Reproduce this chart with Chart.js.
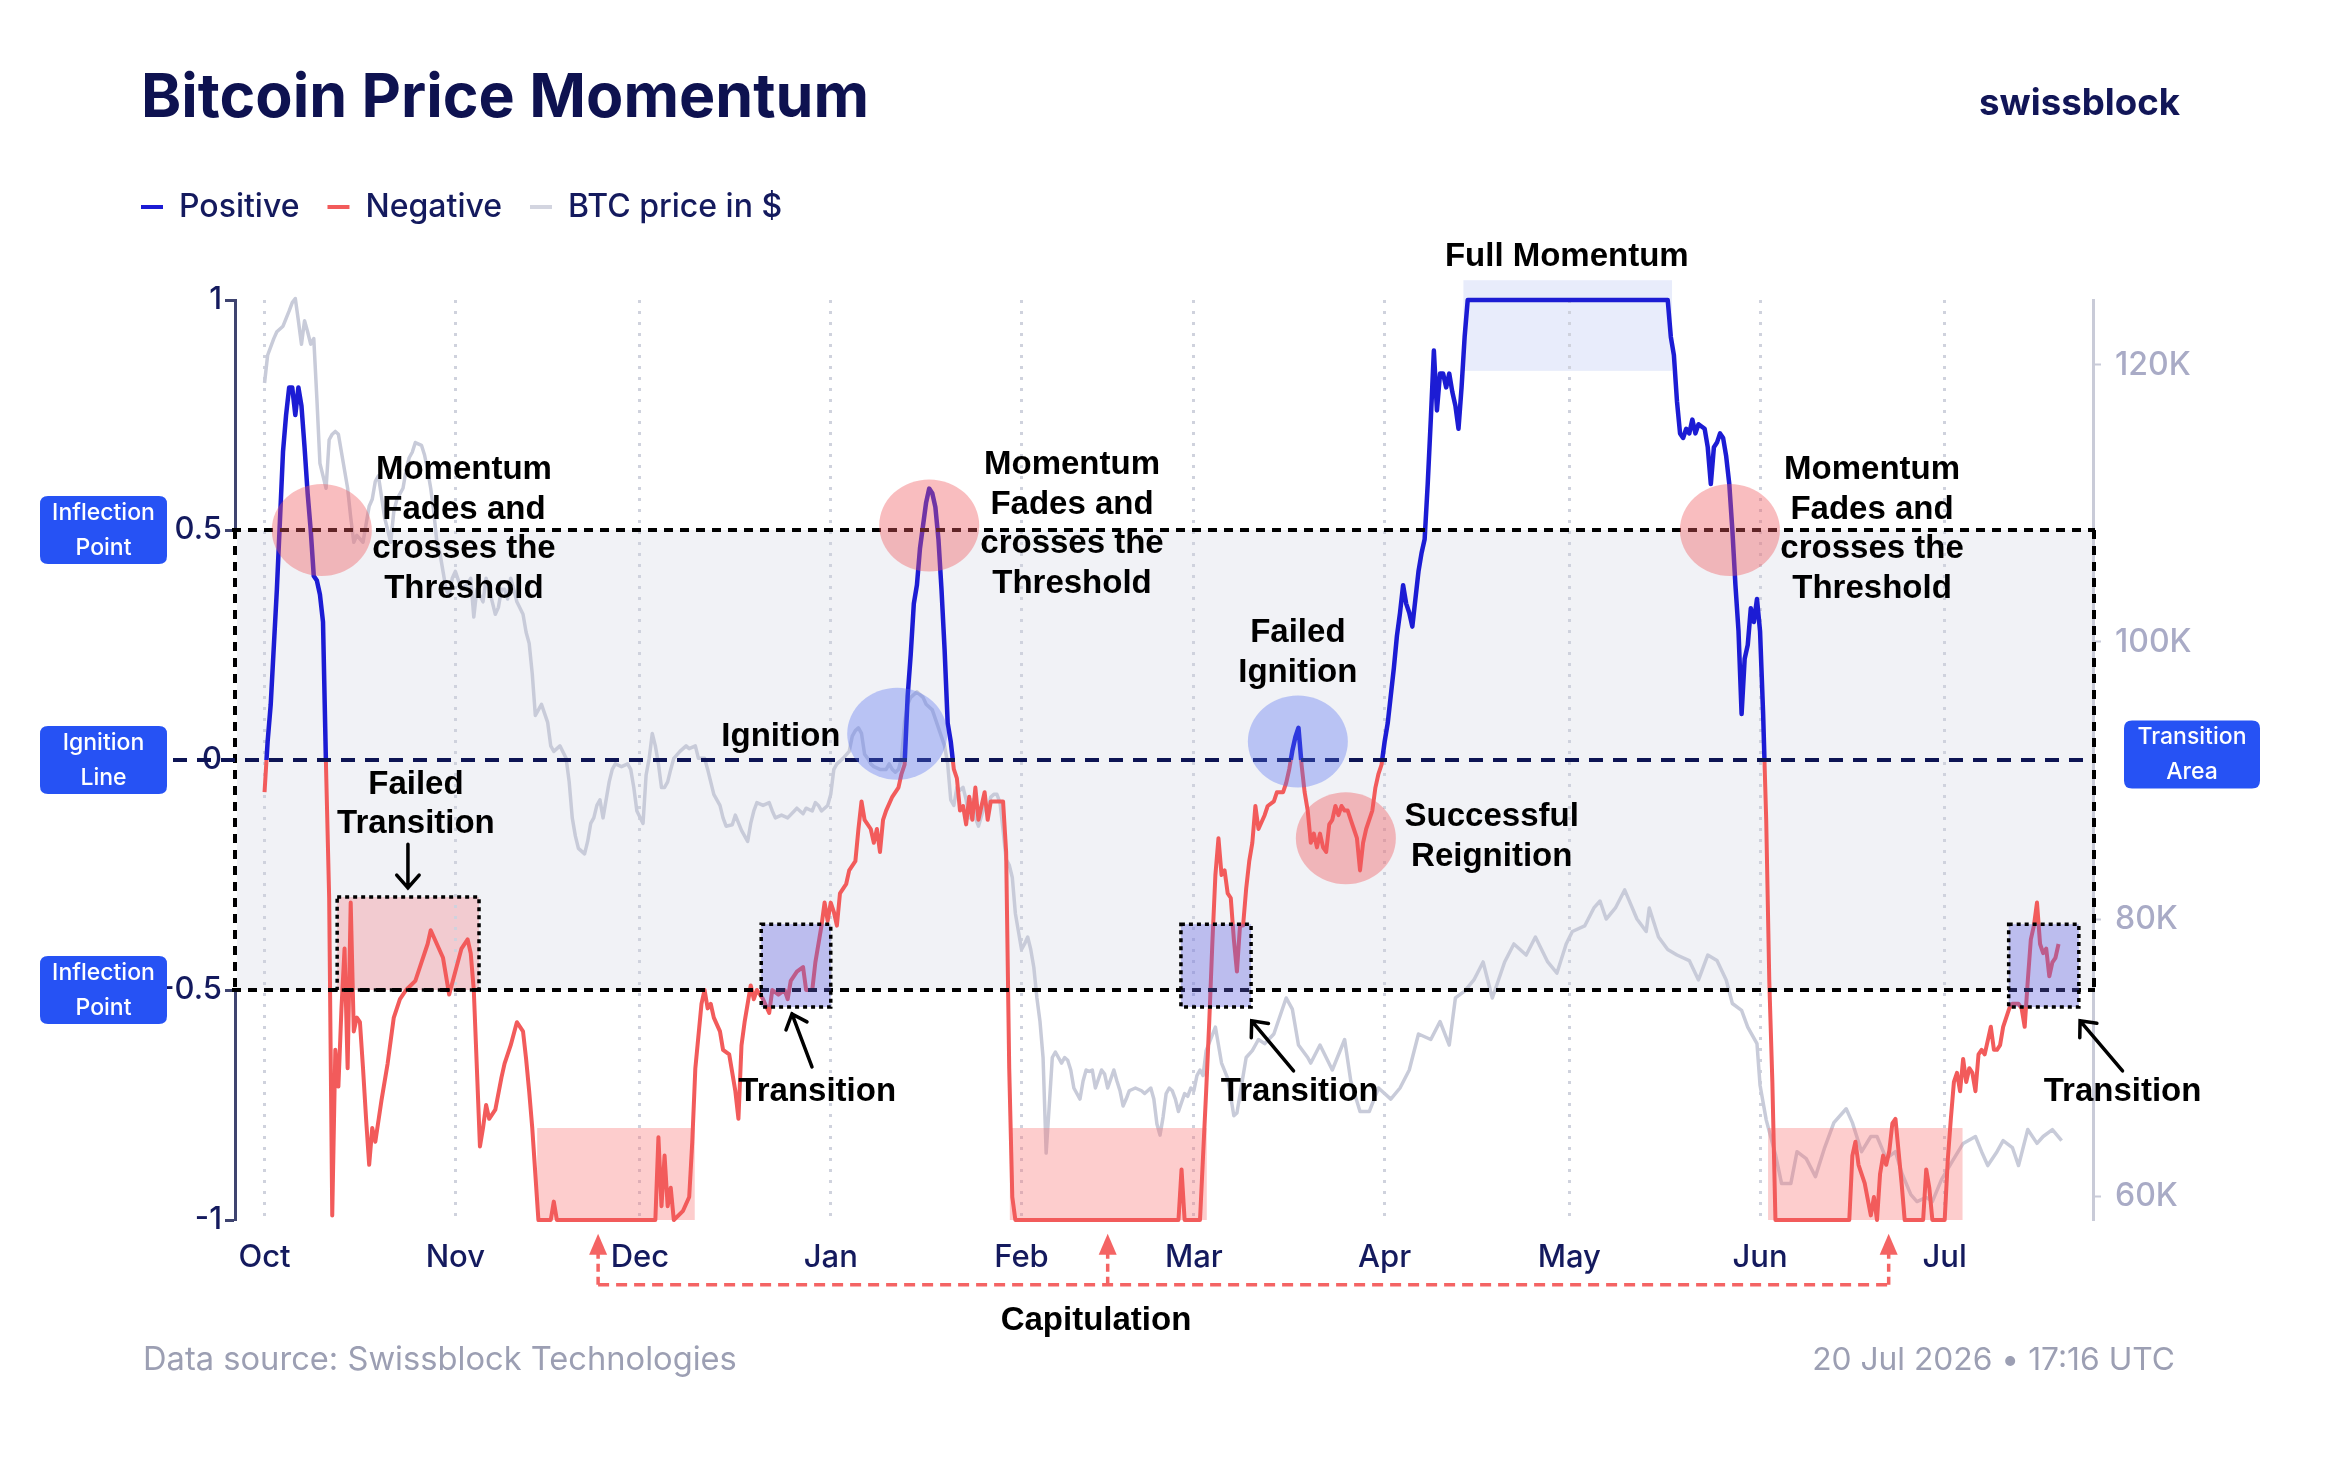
<!DOCTYPE html>
<html>
<head>
<meta charset="utf-8">
<script src="https://cdn.jsdelivr.net/npm/chart.js@4.4.1/dist/chart.umd.min.js"></script>
<style>
html,body{margin:0;padding:0;background:#ffffff;}
canvas{display:block;}
</style>
</head>
<body>
<canvas id="c" width="2336" height="1468"></canvas>
<script>
// ---------------- DATA ----------------
// x values are days counted from START_DATE (1 Oct 2025 = day 0)
const START_DATE = '2025-10-01';
const monthStarts = ['2025-10-01','2025-11-01','2025-12-01','2026-01-01','2026-02-01','2026-03-01','2026-04-01','2026-05-01','2026-06-01','2026-07-01'];
const monthLabels = ['Oct','Nov','Dec','Jan','Feb','Mar','Apr','May','Jun','Jul'];

const seriesNames = ['Positive','Negative','BTC price in $'];

// Bitcoin price momentum: [day, value]
const momentum = [
[0,-0.07],[0.5,0.04],[1,0.12],[2,0.37],[3,0.67],[3.5,0.75],[4,0.81],[4.5,0.81],[5,0.75],[5.5,0.81],[6,0.77],[6.5,0.68],[7,0.58],[7.5,0.50],[8,0.40],[8.5,0.39],[9,0.36],[9.5,0.30],[10,-0.02],[10.5,-0.30],
[11,-0.99],[11.5,-0.63],[12,-0.71],[12.5,-0.54],[13,-0.41],[13.5,-0.67],[14,-0.31],[14.5,-0.59],[15,-0.56],[15.5,-0.57],[16,-0.67],[16.5,-0.78],[17,-0.88],[17.5,-0.80],[18,-0.83],[19,-0.74],[20,-0.66],[21,-0.56],[22,-0.52],[23,-0.50],
[24.5,-0.48],[25.5,-0.44],[26.5,-0.40],[27,-0.37],[28,-0.40],[29,-0.43],[30,-0.51],[31,-0.46],[32,-0.41],[33,-0.39],[33.5,-0.42],[34,-0.50],[34.5,-0.67],[35,-0.84],[35.5,-0.80],[36,-0.75],[36.5,-0.78],[37.5,-0.76],[38.5,-0.69],[39,-0.66],
[40,-0.62],[41,-0.57],[42,-0.59],[42.5,-0.65],[43,-0.72],[43.5,-0.80],[44.5,-1],[46.5,-1],[47,-0.96],[47.5,-1],[63.5,-1],[64,-0.82],[64.5,-0.97],[65,-0.86],[65.5,-0.97],[66,-0.93],[66.5,-1],[68,-0.98],[69,-0.95],[69.5,-0.83],
[70,-0.67],[71,-0.53],[71.5,-0.50],[72,-0.54],[72.5,-0.53],[73,-0.56],[74,-0.59],[74.5,-0.63],[75.5,-0.64],[76.5,-0.72],[77,-0.78],[77.5,-0.62],[78,-0.57],[79,-0.49],[79.5,-0.52],[80,-0.50],[81,-0.52],[82,-0.55],[82.5,-0.50],[83.5,-0.51],
[84.5,-0.50],[85,-0.52],[85.5,-0.48],[86.5,-0.46],[87.5,-0.45],[88,-0.50],[89,-0.50],[89.5,-0.44],[90.5,-0.36],[91,-0.31],[91.5,-0.35],[92,-0.31],[92.5,-0.33],[93,-0.36],[93.5,-0.29],[94.5,-0.27],[95,-0.24],[96,-0.22],[96.5,-0.15],[97,-0.09],
[97.5,-0.13],[98.5,-0.15],[99,-0.18],[99.5,-0.15],[100,-0.20],[100.5,-0.13],[101,-0.11],[102,-0.08],[103,-0.06],[103.5,-0.03],[104,-0.01],[104.5,0.14],[105,0.23],[105.5,0.34],[106,0.38],[106.5,0.46],[107,0.51],[107.5,0.56],[108,0.59],[108.5,0.58],
[109,0.55],[109.5,0.48],[110,0.37],[110.5,0.24],[111,0.08],[111.5,0.04],[112,-0.02],[112.5,-0.04],[113,-0.11],[113.5,-0.10],[114,-0.14],[114.5,-0.08],[115,-0.13],[115.5,-0.06],[116,-0.13],[116.5,-0.10],[117,-0.07],[117.5,-0.13],[118,-0.09],[119,-0.09],
[120,-0.09],[120.5,-0.20],[121,-0.67],[121.5,-0.95],[122,-1],[148.5,-1],[149,-0.89],[149.5,-1],[152,-1],[153,-0.72],[153.5,-0.57],[154,-0.40],[154.5,-0.25],[155,-0.17],[155.5,-0.25],[156,-0.24],[156.5,-0.29],[157,-0.30],[157.5,-0.39],[158,-0.46],
[158.5,-0.36],[159,-0.36],[159.5,-0.28],[160,-0.22],[160.5,-0.18],[161,-0.10],[161.5,-0.15],[162.5,-0.12],[163,-0.10],[164,-0.09],[164.5,-0.07],[165.5,-0.07],[166,-0.05],[166.5,-0.02],[167,0.02],[167.5,0.05],[168,0.07],[168.5,-0.01],[169,-0.07],[169.5,-0.11],
[170,-0.18],[170.5,-0.16],[171,-0.19],[171.5,-0.16],[172,-0.19],[172.5,-0.20],[173,-0.14],[173.5,-0.13],[174,-0.10],[174.5,-0.12],[175,-0.10],[175.5,-0.11],[176,-0.11],[176.5,-0.13],[177,-0.15],[177.5,-0.17],[178,-0.24],[178.5,-0.18],[179,-0.15],[180,-0.11],
[180.5,-0.06],[181,-0.03],[181.5,-0.01],[182,0.04],[182.5,0.08],[183,0.14],[183.5,0.20],[184,0.27],[184.5,0.32],[185,0.38],[185.5,0.34],[186,0.32],[186.5,0.29],[187,0.35],[187.5,0.41],[188,0.45],[188.5,0.48],[189,0.60],[189.5,0.74],[190,0.89],
[190.5,0.76],[191,0.84],[191.5,0.84],[192,0.81],[192.5,0.84],[193,0.80],[193.5,0.77],[194,0.72],[194.5,0.81],[195,0.92],[195.5,1],[228,1],[228.5,0.92],[229,0.88],[229.5,0.78],[230,0.71],[230.5,0.70],[231,0.72],[231.5,0.71],[232,0.74],
[232.5,0.71],[233,0.73],[234,0.72],[234.5,0.68],[235,0.60],[235.5,0.68],[236,0.69],[236.5,0.71],[237,0.70],[237.5,0.66],[238,0.60],[238.5,0.50],[239,0.38],[239.5,0.28],[240,0.10],[240.5,0.22],[241,0.25],[241.5,0.33],[242,0.30],[242.5,0.35],
[243,0.28],[243.5,0.10],[244,-0.13],[244.5,-0.48],[245,-0.70],[245.5,-1],[257.5,-1],[258,-0.86],[258.5,-0.83],[259,-0.88],[260,-0.92],[261,-0.99],[261.5,-0.95],[262,-1],[262.5,-0.90],[263,-0.86],[263.5,-0.88],[264,-0.85],[264.5,-0.79],[265,-0.78],
[265.5,-0.85],[266,-0.92],[266.5,-1],[269.5,-1],[270,-0.89],[270.5,-0.93],[271,-1],[273,-1],[273.5,-0.87],[274,-0.78],[274.5,-0.70],[275,-0.68],[275.5,-0.72],[276,-0.65],[276.5,-0.70],[277,-0.67],[277.5,-0.68],[278,-0.72],[278.5,-0.64],[279,-0.63],
[279.5,-0.64],[280,-0.61],[280.5,-0.58],[281,-0.63],[281.5,-0.63],[282,-0.62],[282.5,-0.58],[283,-0.56],[283.5,-0.54],[284,-0.53],[285,-0.53],[285.5,-0.54],[286,-0.58],[286.5,-0.48],[287,-0.39],[287.5,-0.36],[288,-0.31],[288.5,-0.40],[289,-0.42],[289.5,-0.41],
[290,-0.47],[290.5,-0.44],[291,-0.43],[291.5,-0.40]
];

// BTC price in thousand $: [day, price]
const btcPrice = [
[0,118.7],[0.5,120.7],[1.5,121.9],[2,122.4],[3,122.8],[4,123.9],[4.5,124.5],[5,124.8],[5.5,123.2],[6,121.5],[6.5,123.2],[7,122.4],[7.5,121.5],[8,121.9],[8.5,117.6],[9,112.9],[10,111.1],[10.5,114.6],[11,115.0],[11.5,115.2],
[12,115.0],[12.5,113.7],[13,112.4],[13.5,111.1],[14,109.0],[14.5,107.2],[15,107.7],[16,107.2],[16.5,108.5],[17,109.8],[17.5,110.3],[18,111.6],[18.5,112.0],[19,110.5],[19.5,109.0],[20.5,107.2],[21,109.4],[21.5,110.3],[22.5,111.1],[23,112.4],
[23.5,113.3],[24,113.7],[24.5,114.4],[25.5,114.2],[26,113.5],[26.5,112.4],[27,111.1],[27.5,109.4],[28,107.2],[28.5,106.4],[29,105.1],[29.5,103.8],[30,103.3],[30.5,104.6],[31,105.1],[32,103.8],[33,104.2],[33.5,104.6],[34,101.8],[34.5,103.8],
[35.5,102.9],[36,104.6],[37,102.9],[37.5,102.0],[38,102.5],[38.5,103.8],[39,103.8],[39.5,103.1],[40,104.6],[40.5,103.8],[41,102.9],[42,102.0],[42.5,100.7],[43,99.9],[43.5,97.7],[44,94.7],[44.5,95.1],[45,95.5],[46,94.2],[46.5,92.5],
[47,92.1],[48,92.5],[49,91.6],[49.5,89.9],[50,87.3],[50.5,86.0],[51,85.1],[52,84.7],[52.5,85.6],[53,86.9],[53.5,87.3],[54,88.2],[54.5,88.6],[55,87.3],[55.5,88.6],[56,89.9],[56.5,90.8],[57,91.2],[58,91.0],[59,91.2],
[59.5,90.8],[60,89.5],[60.5,87.8],[61.5,86.9],[62,90.4],[62.5,91.6],[63,93.4],[63.5,92.5],[64,91.2],[64.5,89.5],[65,89.5],[65.5,89.9],[66,90.8],[66.5,91.6],[67.5,92.1],[68.5,92.5],[69,92.3],[70,92.5],[70.5,91.6],[71.5,91.6],
[72,90.8],[72.5,89.9],[73,89.0],[74,88.2],[74.5,87.3],[75,86.7],[76,86.8],[76.5,87.5],[77.5,86.4],[78.5,85.6],[79,86.9],[79.5,87.8],[80,88.4],[81,88.2],[82,88.4],[82.5,87.8],[83,87.3],[84,87.5],[85,87.3],[86.5,88.0],
[87.5,87.6],[88,88.0],[89,87.8],[89.5,88.4],[90,88.2],[90.5,87.8],[91.5,88.2],[92,89.0],[92.5,90.8],[93,91.2],[94,91.6],[95,92.1],[95.5,93.2],[96,93.6],[96.5,93.8],[97,93.4],[97.5,91.9],[98,91.6],[98.5,91.2],[99,91.0],
[100,90.8],[101,90.8],[101.5,91.2],[102,90.8],[102.5,90.6],[103,90.8],[103.5,91.6],[104,94.2],[104.5,95.5],[105,96.0],[106,96.4],[107,96.0],[107.5,95.5],[108.5,95.1],[109.5,93.8],[110.5,92.5],[111,91.2],[111.5,88.6],[112,88.2],[112.5,89.5],
[113,89.3],[113.5,89.5],[114,88.6],[114.5,87.3],[115,88.6],[115.5,87.3],[116,86.7],[117,88.2],[117.5,87.8],[118,88.8],[118.5,89.0],[119,89.0],[119.5,88.4],[120,86.4],[120.5,84.3],[121,83.9],[121.5,83.0],[122,80.4],[123,77.8],[123.5,78.2],
[124,78.7],[124.5,77.8],[125,76.5],[125.5,74.3],[126,72.6],[126.5,70.0],[127,63.1],[127.5,66.5],[128,70.0],[128.5,70.4],[129.5,69.6],[130,70.0],[130.5,69.8],[131,69.1],[131.5,67.8],[132.5,67.0],[133,68.3],[133.5,69.1],[134,69.0],[134.5,69.1],
[135,67.8],[136,69.1],[136.5,68.8],[137,67.8],[138,69.1],[138.5,68.3],[139,67.6],[139.5,66.5],[140,67.0],[140.5,67.6],[141.5,67.8],[142.5,67.6],[143,67.4],[144,67.8],[144.5,67.0],[145,65.2],[145.5,64.4],[146,65.7],[146.5,67.4],[147,67.8],
[147.5,67.6],[148,67.0],[148.5,66.1],[149.5,67.4],[150,67.2],[150.5,67.8],[151,67.6],[151.5,68.7],[152,69.1],[152.5,68.7],[153,70.5],[154.5,72.2],[155.5,69.6],[156.5,68.5],[157.5,65.8],[158,66.0],[159.5,70.0],[160.5,70.5],[161.5,71.3],[162.5,71.0],
[164,71.7],[165,73.0],[166,74.3],[167,73.5],[168,70.9],[169.5,70.0],[170,69.6],[171.5,70.9],[173.5,69.1],[175.5,71.3],[176.5,68.3],[178,66.1],[179.5,66.1],[181,67.8],[183,67.0],[184.5,67.8],[186,69.1],[187.5,71.7],[189.5,71.3],[191,72.6],
[192.5,70.9],[193.5,74.3],[195,74.8],[196.5,75.6],[198,76.9],[199.5,74.3],[201.5,76.9],[203,78.2],[205,77.4],[206.5,78.7],[208.5,76.9],[210,76.1],[211.5,78.2],[212.5,79.1],[214.5,79.5],[216,80.8],[217,81.3],[218,80.0],[219.5,80.8],[221,82.1],
[223,80.0],[224.5,79.1],[225,80.8],[226.5,78.7],[228,77.8],[229.5,77.4],[231.5,77.0],[233,75.6],[234.5,77.4],[236,77.0],[237.5,75.6],[238.5,73.9],[240,73.4],[241,72.2],[242.5,71.0],[243,68.0],[244,65.5],[245.5,63.0],[246.5,60.9],[248,60.9],
[249,63.2],[250.5,62.7],[252,61.4],[253.5,63.5],[255,65.3],[257,66.3],[258,65.3],[259.5,63.2],[261,64.3],[262,64.3],[263.5,62.7],[265,63.2],[266,61.7],[267.5,60.1],[268.5,59.6],[270,59.9],[271,59.6],[272.5,61.2],[274.5,62.7],[276,63.8],
[278,64.3],[279,63.2],[280,62.2],[281.5,63.2],[282.5,64.0],[284,63.5],[285,62.2],[286.5,64.8],[288,63.8],[289,64.3],[290.5,64.8],[292,64.0]
];

const momentumTicks = [-1, -0.5, 0, 0.5, 1];
const momentumTickLabels = ['-1', '-0.5', '0', '0.5', '1'];
const priceTicks = [60, 80, 100, 120];
const priceTickLabels = ['60K', '80K', '100K', '120K'];

// ---------------- ANNOTATIONS (data coordinates: day, momentum value) ----------------
const X_RANGE = [-4.8, 297.1];
const PRICE_RANGE = [58.27, 124.69];
const fullMomentumBox = {x0: 194.8, x1: 228.7, y0: 0.846, y1: 1.043};
const failedTransitionBox = {x0: 11.8, x1: 34.85, y0: -0.5, y1: -0.298};
const transitionBoxes = [{x0: 80.7, x1: 92.0}, {x0: 148.9, x1: 160.3}, {x0: 283.4, x1: 294.8}];
const transitionBoxY = [-0.537, -0.357];
const capitulationBoxes = [{x0: 44.3, x1: 69.9}, {x0: 121.1, x1: 153.1}, {x0: 244.3, x1: 275.9}];
const capitulationBoxY = [-1, -0.8];
const highlightCircles = [
  {x: 9.3, y: 0.5, c: 'red'}, {x: 108.0, y: 0.51, c: 'red'}, {x: 238.1, y: 0.5, c: 'red'},
  {x: 102.8, y: 0.057, c: 'blue'}, {x: 167.9, y: 0.04, c: 'blue'}, {x: 175.7, y: -0.17, c: 'red'}
];
const FADES = ['Momentum', 'Fades and', 'crosses the', 'Threshold'];
const textNotes = [
  {lines: FADES, x: 32.4, y: 0.630},
  {lines: FADES, x: 131.2, y: 0.641},
  {lines: FADES, x: 261.2, y: 0.630},
  {lines: ['Full Momentum'], x: 211.6, y: 1.093},
  {lines: ['Ignition'], x: 83.9, y: 0.05},
  {lines: ['Failed', 'Ignition'], x: 167.9, y: 0.276},
  {lines: ['Successful', 'Reignition'], x: 199.4, y: -0.124},
  {lines: ['Failed', 'Transition'], x: 24.6, y: -0.054},
  {lines: ['Transition'], x: 89.8, y: -0.722},
  {lines: ['Transition'], x: 168.2, y: -0.722},
  {lines: ['Transition'], x: 301.9, y: -0.722},
  {lines: ['Capitulation'], x: 135.1, y: -1.22}
];
const arrows = [
  {from: [23.3, -0.183], to: [23.3, -0.278]},
  {from: [88.95, -0.667], to: [85.7, -0.552]},
  {from: [167.2, -0.676], to: [160.4, -0.567]},
  {from: [301.9, -0.676], to: [295.0, -0.567]}
];
const capitulationArrows = {xs: [54.2, 137.0, 263.9], lineY: -1.141, tipY: -1.03};
const sideLabels = [
  {lines: ['Inflection', 'Point'], at: 0.5, side: 'left'},
  {lines: ['Ignition', 'Line'], at: 0, side: 'left'},
  {lines: ['Inflection', 'Point'], at: -0.5, side: 'left'},
  {lines: ['Transition', 'Area'], at: 0.012, side: 'right'}
];

// ---------------- STYLE ----------------
const NAVY = '#141a5e';
const BLUE = '#1c1cd4';
const RED = '#f25b5b';
const GREY = '#c8cbd9';
const LABEL_BLUE = '#2652f4';
const NOTE_FONT = 'bold 33px "Liberation Sans", Arial, sans-serif';

const dayOf = s => (Date.parse(s + 'T00:00:00Z') - Date.parse(START_DATE + 'T00:00:00Z')) / 864e5;
const monthTickDays = monthStarts.map(dayOf);

function roundRect(ctx, x, y, w, h, r) {
  ctx.beginPath();
  ctx.moveTo(x + r, y);
  ctx.lineTo(x + w - r, y); ctx.quadraticCurveTo(x + w, y, x + w, y + r);
  ctx.lineTo(x + w, y + h - r); ctx.quadraticCurveTo(x + w, y + h, x + w - r, y + h);
  ctx.lineTo(x + r, y + h); ctx.quadraticCurveTo(x, y + h, x, y + h - r);
  ctx.lineTo(x, y + r); ctx.quadraticCurveTo(x, y, x + r, y);
  ctx.closePath();
}
function fitFont(ctx, text, weight, family, size, target) {
  ctx.font = weight + ' ' + size + 'px ' + family;
  const w = ctx.measureText(text).width;
  const s = size * target / w;
  return weight + ' ' + s.toFixed(2) + 'px ' + family;
}
function drawArrow(ctx, x1, y1, x2, y2) {
  const a = Math.atan2(y2 - y1, x2 - x1), h = 17, s = 0.72;
  ctx.beginPath();
  ctx.moveTo(x1, y1); ctx.lineTo(x2, y2);
  ctx.moveTo(x2 - h * Math.cos(a - s), y2 - h * Math.sin(a - s));
  ctx.lineTo(x2, y2);
  ctx.lineTo(x2 - h * Math.cos(a + s), y2 - h * Math.sin(a + s));
  ctx.stroke();
}

const annotationPlugin = {
  id: 'momentumAnnotations',
  beforeDraw(chart) {
    const ctx = chart.ctx, a = chart.chartArea;
    const X = v => chart.scales.x.getPixelForValue(v), Y = v => chart.scales.y.getPixelForValue(v);
    ctx.save();
    ctx.fillStyle = '#f1f2f6';
    ctx.fillRect(a.left, Y(0.5), a.right - a.left, Y(-0.5) - Y(0.5));
    ctx.fillStyle = '#e8ecfb';
    ctx.fillRect(X(fullMomentumBox.x0), Y(fullMomentumBox.y1), X(fullMomentumBox.x1) - X(fullMomentumBox.x0), Y(fullMomentumBox.y0) - Y(fullMomentumBox.y1));
    ctx.fillStyle = 'rgba(244,150,156,0.42)';
    const b = failedTransitionBox;
    ctx.fillRect(X(b.x0), Y(b.y1), X(b.x1) - X(b.x0), Y(b.y0) - Y(b.y1));
    ctx.restore();
  },
  beforeDatasetDraw(chart, args) {
    if (args.index > 1) return;
    const ctx = chart.ctx, a = chart.chartArea, y0 = chart.scales.y.getPixelForValue(0);
    ctx.save();
    ctx.beginPath();
    if (args.index === 0) ctx.rect(a.left - 20, a.top - 20, a.right - a.left + 40, y0 - a.top + 20);
    else ctx.rect(a.left - 20, y0, a.right - a.left + 40, a.bottom - y0 + 20);
    ctx.clip();
  },
  afterDatasetDraw(chart, args) {
    const ctx = chart.ctx;
    if (args.index <= 1) { ctx.restore(); return; }
    const X = v => chart.scales.x.getPixelForValue(v), Y = v => chart.scales.y.getPixelForValue(v);
    ctx.save();
    ctx.fillStyle = 'rgba(250,112,112,0.35)';
    capitulationBoxes.forEach(b => {
      ctx.fillRect(X(b.x0), Y(capitulationBoxY[1]), X(b.x1) - X(b.x0), Y(capitulationBoxY[0]) - Y(capitulationBoxY[1]));
    });
    ctx.restore();
  },
  afterDatasetsDraw(chart) {
    const ctx = chart.ctx, a = chart.chartArea;
    const X = v => chart.scales.x.getPixelForValue(v), Y = v => chart.scales.y.getPixelForValue(v);
    ctx.save();
    ctx.lineWidth = 4;
    ctx.strokeStyle = '#ffffff';
    ctx.beginPath(); ctx.moveTo(a.left, Y(0.5)); ctx.lineTo(a.left, Y(-0.5)); ctx.stroke();
    ctx.strokeStyle = '#000000';
    ctx.setLineDash([9, 7]);
    [0.5, -0.5].forEach(v => { ctx.beginPath(); ctx.moveTo(a.left - 3, Y(v)); ctx.lineTo(a.right + 2, Y(v)); ctx.stroke(); });
    [a.left, a.right + 1].forEach(x => { ctx.beginPath(); ctx.moveTo(x, Y(0.5)); ctx.lineTo(x, Y(-0.5)); ctx.stroke(); });
    ctx.strokeStyle = '#0d1454';
    ctx.setLineDash([14, 10]);
    ctx.beginPath(); ctx.moveTo(173, Y(0)); ctx.lineTo(a.right, Y(0)); ctx.stroke();
    ctx.setLineDash([]);
    ctx.fillStyle = 'rgba(95,95,225,0.36)';
    transitionBoxes.forEach(b => {
      ctx.fillRect(X(b.x0), Y(transitionBoxY[1]), X(b.x1) - X(b.x0), Y(transitionBoxY[0]) - Y(transitionBoxY[1]));
    });
    ctx.strokeStyle = '#000000';
    ctx.lineWidth = 3.5;
    ctx.setLineDash([4, 4]);
    transitionBoxes.forEach(b => {
      ctx.strokeRect(X(b.x0), Y(transitionBoxY[1]), X(b.x1) - X(b.x0), Y(transitionBoxY[0]) - Y(transitionBoxY[1]));
    });
    const fb = failedTransitionBox;
    ctx.strokeRect(X(fb.x0), Y(fb.y1), X(fb.x1) - X(fb.x0), Y(fb.y0) - Y(fb.y1));
    ctx.setLineDash([]);
    highlightCircles.forEach(c => {
      ctx.fillStyle = c.c === 'red' ? 'rgba(240,90,95,0.40)' : 'rgba(80,110,240,0.35)';
      ctx.beginPath();
      ctx.ellipse(X(c.x), Y(c.y), 50, 46, 0, 0, Math.PI * 2);
      ctx.fill();
    });
    ctx.restore();
  },
  afterDraw(chart) {
    const ctx = chart.ctx;
    const X = v => chart.scales.x.getPixelForValue(v), Y = v => chart.scales.y.getPixelForValue(v);
    ctx.save();
    sideLabels.forEach(l => {
      const cy = Y(l.at);
      const x0 = l.side === 'left' ? 40 : 2124, w = l.side === 'left' ? 127 : 136, h = 68;
      ctx.fillStyle = LABEL_BLUE;
      roundRect(ctx, x0, cy - h / 2, w, h, 8);
      ctx.fill();
      ctx.fillStyle = '#ffffff';
      ctx.font = '500 23px Inter, "Noto Sans", sans-serif';
      ctx.textAlign = 'center';
      ctx.textBaseline = 'middle';
      ctx.fillText(l.lines[0], x0 + w / 2, cy - 17);
      ctx.fillText(l.lines[1], x0 + w / 2, cy + 18);
    });
    ctx.fillStyle = '#000000';
    ctx.font = NOTE_FONT;
    ctx.textAlign = 'center';
    ctx.textBaseline = 'middle';
    textNotes.forEach(n => {
      n.lines.forEach((t, i) => ctx.fillText(t, X(n.x), Y(n.y) + i * 39.5));
    });
    ctx.strokeStyle = '#000000';
    ctx.lineWidth = 3.5;
    ctx.lineCap = 'round';
    arrows.forEach(ar => drawArrow(ctx, X(ar.from[0]), Y(ar.from[1]), X(ar.to[0]), Y(ar.to[1])));
    const ca = capitulationArrows;
    const ly = Y(ca.lineY), ty = Y(ca.tipY);
    ctx.strokeStyle = '#f46464';
    ctx.fillStyle = '#f46464';
    ctx.lineWidth = 3.5;
    ctx.lineCap = 'butt';
    ctx.setLineDash([11, 7]);
    ctx.beginPath(); ctx.moveTo(X(ca.xs[0]), ly); ctx.lineTo(X(ca.xs[2]), ly); ctx.stroke();
    ca.xs.forEach(d => {
      const x = X(d);
      ctx.setLineDash([8, 5]);
      ctx.beginPath(); ctx.moveTo(x, ly); ctx.lineTo(x, ty + 20); ctx.stroke();
      ctx.setLineDash([]);
      ctx.beginPath(); ctx.moveTo(x, ty); ctx.lineTo(x - 9, ty + 21); ctx.lineTo(x + 9, ty + 21); ctx.closePath(); ctx.fill();
    });
    ctx.setLineDash([]);
    ctx.textAlign = 'left';
    ctx.textBaseline = 'alphabetic';
    ctx.fillStyle = '#0e1250';
    ctx.font = fitFont(ctx, 'Bitcoin Price Momentum', '700', 'Inter, sans-serif', 62, 728);
    ctx.fillText('Bitcoin Price Momentum', 141, 117);
    ctx.textAlign = 'right';
    ctx.fillStyle = '#121658';
    ctx.font = fitFont(ctx, 'swissblock', '700', 'Inter, sans-serif', 40, 201);
    ctx.fillText('swissblock', 2180, 115);
    ctx.fillStyle = '#9c9fb3';
    ctx.textBaseline = 'middle';
    ctx.textAlign = 'left';
    ctx.font = fitFont(ctx, 'Data source: Swissblock Technologies', '400', 'Inter, sans-serif', 31, 594);
    ctx.fillText('Data source: Swissblock Technologies', 143, 1360);
    ctx.textAlign = 'right';
    ctx.font = fitFont(ctx, '20 Jul 2026 \u2022 17:16 UTC', '400', 'Inter, sans-serif', 31, 363);
    ctx.fillText('20 Jul 2026 \u2022 17:16 UTC', 2175, 1360);
    ctx.restore();
  }
};

const LEGEND_COLORS = [BLUE, RED, '#d3d5e0'];
const toXY = arr => arr.map(p => ({x: p[0], y: p[1]}));

function build() {
  new Chart(document.getElementById('c'), {
    type: 'line',
    data: {
      datasets: [
        {label: seriesNames[0], data: toXY(momentum), borderColor: BLUE, backgroundColor: BLUE, borderWidth: 4.5, pointRadius: 0, tension: 0, yAxisID: 'y', clip: 10, borderJoinStyle: 'round'},
        {label: seriesNames[1], data: toXY(momentum), borderColor: RED, backgroundColor: RED, borderWidth: 4, pointRadius: 0, tension: 0, yAxisID: 'y', clip: 10, borderJoinStyle: 'round'},
        {label: seriesNames[2], data: toXY(btcPrice), borderColor: GREY, backgroundColor: GREY, borderWidth: 3.5, pointRadius: 0, tension: 0, yAxisID: 'yPrice', clip: 10, borderJoinStyle: 'round'}
      ]
    },
    options: {
      responsive: false,
      animation: false,
      devicePixelRatio: 1,
      events: [],
      layout: {padding: {left: 113, top: 163, right: 0, bottom: 0}},
      plugins: {
        title: {display: false},
        tooltip: {enabled: false},
        legend: {
          display: true, position: 'top', align: 'start',
          labels: {
            boxWidth: 22, boxHeight: 4, padding: 28, color: NAVY,
            font: {family: 'Inter', size: 32, weight: 500},
            generateLabels: ch => ch.data.datasets.map((ds, i) => ({
              text: ds.label, fillStyle: LEGEND_COLORS[i], strokeStyle: LEGEND_COLORS[i],
              lineWidth: 0, hidden: false, datasetIndex: i, fontColor: NAVY
            }))
          }
        }
      },
      scales: {
        x: {
          type: 'linear', position: 'bottom', min: X_RANGE[0], max: X_RANGE[1],
          afterBuildTicks: s => { s.ticks = monthTickDays.map(v => ({value: v})); },
          afterFit: s => { s.height = 248; },
          ticks: {
            autoSkip: false, maxRotation: 0, minRotation: 0, padding: 19, color: NAVY,
            font: {family: 'Inter', size: 31, weight: 500},
            callback: (v, i) => monthLabels[i]
          },
          grid: {display: true, drawOnChartArea: true, drawTicks: false, color: '#cfd2dd', lineWidth: 3},
          border: {display: false, dash: [3, 8]}
        },
        spacer: {
          type: 'linear', axis: 'x', position: 'top', display: true,
          ticks: {display: false}, grid: {display: false, drawTicks: false}, border: {display: false},
          afterFit: s => { s.height = 67; }
        },
        y: {
          type: 'linear', position: 'left', min: -1, max: 1,
          afterBuildTicks: s => { s.ticks = momentumTicks.map(v => ({value: v})); },
          afterFit: s => { s.width = 122; },
          ticks: {
            padding: 3, color: NAVY, font: {family: 'Inter', size: 31, weight: 500},
            callback: (v, i) => momentumTickLabels[i]
          },
          grid: {display: true, drawOnChartArea: false, drawTicks: true, tickLength: 10, tickColor: '#3f4470', tickWidth: 3},
          border: {display: true, color: '#3f4470', width: 3}
        },
        yPrice: {
          type: 'linear', position: 'right', min: PRICE_RANGE[0], max: PRICE_RANGE[1],
          afterBuildTicks: s => { s.ticks = priceTicks.map(v => ({value: v})); },
          afterFit: s => { s.width = 243; },
          ticks: {
            padding: 14, color: '#a9abc6', font: {family: 'Inter', size: 32, weight: 500},
            callback: (v, i) => priceTickLabels[i]
          },
          grid: {display: true, drawOnChartArea: false, drawTicks: true, tickLength: 8, tickColor: '#c9cbd8', tickWidth: 2},
          border: {display: true, color: '#c9cbd8', width: 3}
        }
      }
    },
    plugins: [annotationPlugin]
  });
}

const fontsToLoad = ['700 62px Inter', '500 32px Inter', '400 31px Inter', 'bold 33px "Liberation Sans"'];
Promise.all(fontsToLoad.map(f => document.fonts.load(f).catch(() => null))).then(build, build);
</script>
</body>
</html>
